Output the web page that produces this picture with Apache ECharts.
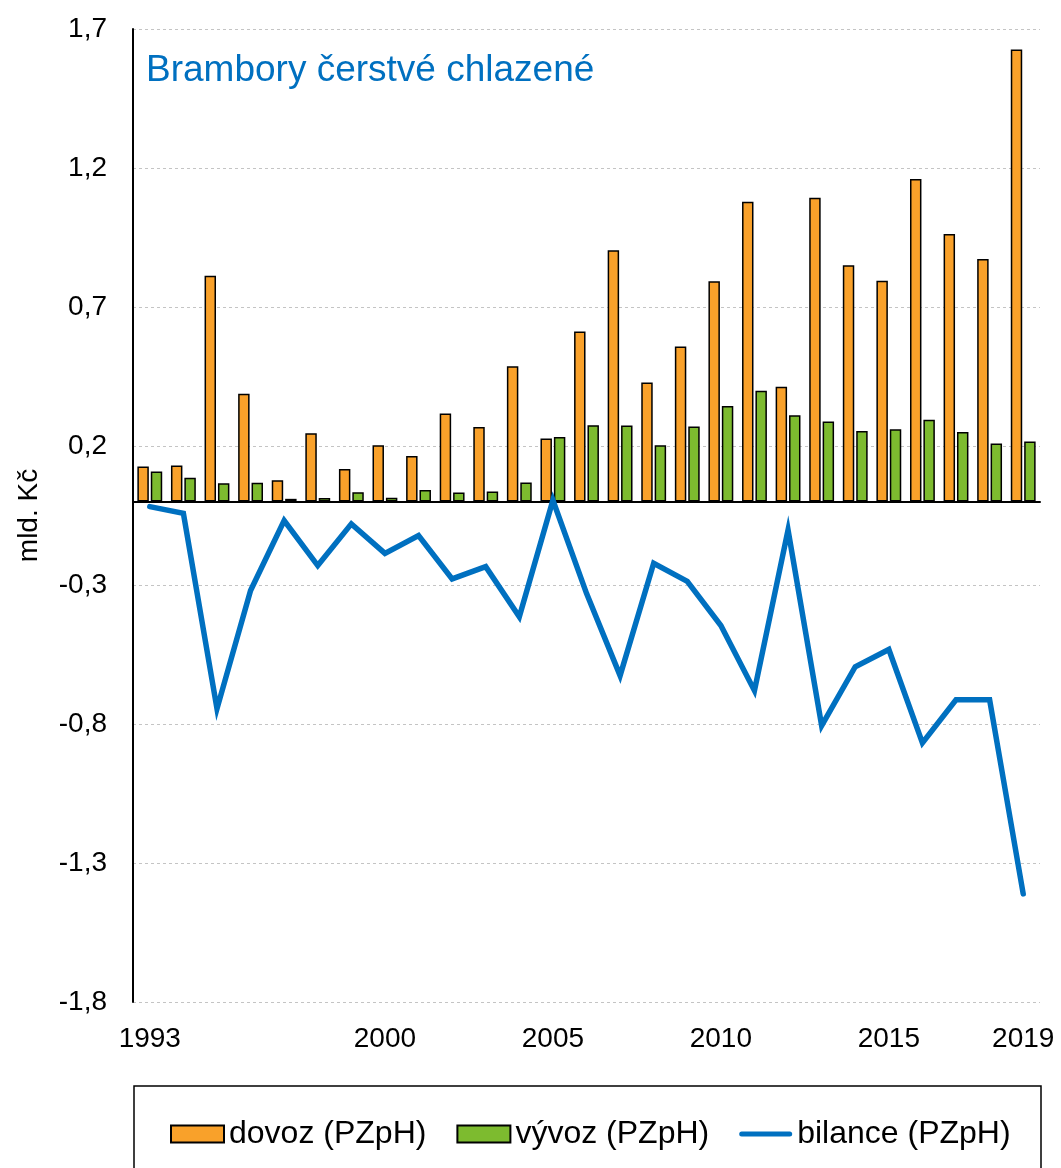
<!DOCTYPE html>
<html>
<head>
<meta charset="utf-8">
<script src="https://cdn.jsdelivr.net/npm/echarts@6/dist/echarts.min.js"></script>
<style>
  html, body { margin: 0; padding: 0; background: #fff; }
  #chart { width: 1061px; height: 1168px; }
</style>
</head>
<body>
<div id="chart"></div>
<script>
  // roky
  var years = ['1993', '1994', '1995', '1996', '1997', '1998', '1999', '2000', '2001', '2002',
    '2003', '2004', '2005', '2006', '2007', '2008', '2009', '2010', '2011', '2012',
    '2013', '2014', '2015', '2016', '2017', '2018', '2019'];
  // dovoz (PZpH), mld. Kč
  var dovoz = [0.126, 0.13, 0.812, 0.388, 0.077, 0.246, 0.117, 0.203, 0.164, 0.317,
    0.268, 0.487, 0.227, 0.612, 0.904, 0.428, 0.558, 0.793, 1.079, 0.413,
    1.093, 0.85, 0.794, 1.16, 0.963, 0.873, 1.626];
  // vývoz (PZpH)
  var vyvoz = [0.108, 0.086, 0.066, 0.068, 0.01, 0.013, 0.034, 0.014, 0.042, 0.033,
    0.036, 0.069, 0.232, 0.275, 0.274, 0.203, 0.27, 0.344, 0.399, 0.311,
    0.288, 0.254, 0.26, 0.294, 0.25, 0.209, 0.216];
  // bilance (PZpH)
  var bilance = [-0.018, -0.042, -0.745, -0.32, -0.068, -0.23, -0.08, -0.186, -0.122, -0.278,
    -0.234, -0.414, 0.005, -0.33, -0.626, -0.222, -0.287, -0.446, -0.68, -0.102,
    -0.806, -0.594, -0.532, -0.868, -0.713, -0.713, -1.411];
  // popisky osy x
  var shownYears = ['1993', '2000', '2005', '2010', '2015', '2019'];

  var font = '"Liberation Sans", Arial, sans-serif';
  var myChart = echarts.init(document.getElementById('chart'));
  myChart.setOption({
    animation: false,
    textStyle: { fontFamily: font },
    title: {
      text: 'Brambory čerstvé chlazené',
      left: 146,
      top: 52,
      padding: 0,
      textStyle: { color: '#0070C0', fontSize: 37, fontWeight: 'normal', fontFamily: font }
    },
    grid: { left: 133, right: 21, top: 29, bottom: 166 },
    legend: {
      left: 165,
      top: 1113,
      itemWidth: 53,
      itemHeight: 17,
      itemGap: 30,
      icon: 'rect',
      textStyle: { fontSize: 32, color: '#000', fontFamily: font },
      data: [
        { name: 'dovoz (PZpH)' },
        { name: 'vývoz (PZpH)' },
        {
          name: 'bilance (PZpH)',
          icon: 'path://M2.5,0H50.5A2.5,2.5,0,0,1,50.5,5H2.5A2.5,2.5,0,0,1,2.5,0Z',
          itemStyle: { color: '#0070C0', borderWidth: 0 }
        }
      ]
    },
    graphic: [{
      type: 'rect',
      shape: { x: 134, y: 1086, width: 907, height: 120 },
      style: { fill: 'none', stroke: '#000', lineWidth: 1.5 },
      silent: true
    }],
    xAxis: [{
      type: 'category',
      data: years,
      axisLine: { onZero: true, lineStyle: { color: '#000', width: 2 } },
      axisTick: { show: false },
      axisLabel: { show: false },
      splitLine: { show: false }
    }, {
      type: 'category',
      data: years,
      position: 'bottom',
      axisLine: { show: false, onZero: false },
      axisTick: { show: false },
      axisLabel: {
        interval: function (index, value) { return shownYears.indexOf(value) >= 0; },
        margin: 23,
        fontSize: 28,
        color: '#000',
        fontFamily: font
      },
      splitLine: { show: false }
    }],
    yAxis: {
      type: 'value',
      min: -1.8,
      max: 1.7,
      interval: 0.5,
      name: 'mld. Kč',
      nameLocation: 'middle',
      nameRotate: 90,
      nameGap: 90,
      nameTextStyle: { fontSize: 28, color: '#000', fontFamily: font },
      axisLine: { show: true, lineStyle: { color: '#000', width: 2 } },
      axisTick: { show: false },
      axisLabel: {
        margin: 26,
        fontSize: 28,
        color: '#000',
        fontFamily: font,
        formatter: function (v) { return v.toFixed(1).replace('.', ','); }
      },
      splitLine: { lineStyle: { color: '#c4c4c4', width: 1, type: [3, 3] } }
    },
    series: [{
      name: 'dovoz (PZpH)',
      type: 'bar',
      data: dovoz,
      barGap: '17%',
      barCategoryGap: '26%',
      itemStyle: { color: '#F9A12A', borderColor: '#000', borderWidth: 1.5 }
    }, {
      name: 'vývoz (PZpH)',
      type: 'bar',
      data: vyvoz,
      itemStyle: { color: '#7DBB2F', borderColor: '#000', borderWidth: 1.5 }
    }, {
      name: 'bilance (PZpH)',
      type: 'line',
      data: bilance,
      symbol: 'none',
      z: 5,
      lineStyle: { color: '#0070C0', width: 5.5, cap: 'round', join: 'miter' },
      itemStyle: { color: '#0070C0' }
    }]
  });
</script>
</body>
</html>
